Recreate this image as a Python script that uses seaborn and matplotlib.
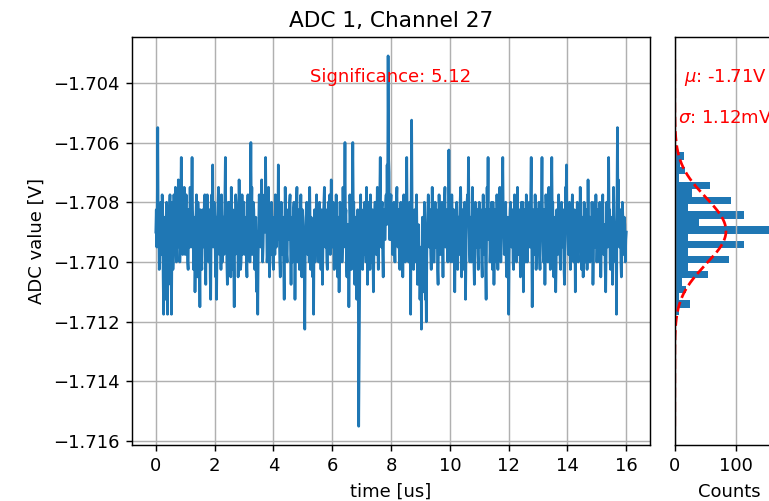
import numpy as np
import pandas as pd
import matplotlib
matplotlib.use("Agg")
import matplotlib.pyplot as plt
import seaborn as sns

# ADC samples, offset from baseline in mV (60 samples per us, one block per us)
baseline_v = -1.709
samples_per_us = 60
adc_offset_mv = [
    # 0-1 us
    0, 0.75, -0.5, 1.0, 3.5, -0.25, 0.5, -1.25, -1.0, 0.25, 1.0, -0.75, -0.25, 1.25, 0.75,
    -1.5, -2.75, 0.0, 0.5, -2.25, -1.5, 0.25, 1.0, -1.0, -2.75, 0.5, -0.5, -1.25, 0.75, 1.25,
    -1.75, 0.0, -2.75, -0.5, 1.0, -1.25, -0.75, 1.25, 0.5, -0.25, 1.5, 0.5, -1.0, 1.25, 0.25,
    -0.5, 1.75, 0.75, 0.5, -1.0, -0.5, 1.25, 2.5, 0.5, 1.0, -0.75, -0.25, 0.75, 1.5, -0.5,
    # 1-2 us
    -0.75, 0.5, 1.25, -0.25, 0.5, -1.0, -1.25, 0.75, 0.75, -0.5, 1.5, 0.25, -0.5, 1.0, 2.5,
    0.75, 0.25, -1.25, -1.0, 0.5, -2.0, -0.75, 0.5, 1.25, -0.75, -1.5, 1.0, 0.25, -1.5, -0.5,
    -2.5, 0.75, 0.0, -1.0, -1.25, 0.5, 0.75, -0.25, -0.5, 1.0, 1.25, -0.75, -1.75, 0.25, 0.25,
    1.25, 1.0, -0.5, -1.0, 0.75, 0.5, -1.5, -2.25, 0.0, 1.25, 0.5, 2.25, -0.5, -0.25, 1.0,
    # 2-3 us
    0.75, -0.25, -1.5, 0.5, -2.25, -0.5, 0.5, 1.0, 1.5, -0.25, -0.75, 0.75, 0.25, -1.25, 1.25,
    0.0, -1.0, 0.5, 0.5, -0.75, -0.25, 1.25, 2.5, 0.25, 0.75, -1.0, -1.75, 0.5, 1.0, -0.5,
    -0.5, 1.0, 0.25, -1.5, 1.5, 0.25, -1.25, 0.75, 0.5, -1.0, -2.5, 0.25, -0.75, 1.25, 1.0,
    -0.5, 0.0, 0.75, -1.5, -0.25, 1.75, 0.5, 0.5, -1.25, -1.0, 0.25, 1.25, -0.75, -0.5, 1.0,
    # 3-4 us
    1.0, -0.5, -0.75, 0.25, 0.5, -1.0, -1.5, 0.75, 1.25, -0.25, 0.25, 0.5, -1.0, 1.0, 3.0,
    0.5, 1.5, -0.75, -0.25, 1.0, 0.75, -0.5, -1.25, 0.25, 0.5, -1.5, -2.0, 0.0, -2.75, -0.75,
    0.25, 1.25, 1.0, -0.25, -0.5, 0.75, 1.75, 0.25, -1.0, -0.5, 0.5, 1.0, 1.25, 0.0, 2.5,
    0.75, 0.75, -1.0, -0.75, 0.5, 1.5, -0.25, -1.5, 0.75, 0.25, -0.75, 1.0, 0.5, -0.25, -1.0,
    # 4-5 us
    -1.25, 0.25, 0.5, -0.75, 1.25, 0.5, -0.5, 1.0, 0.75, -0.25, 2.25, 0.75, 0.0, -1.0, -1.5,
    0.5, 1.0, -0.5, -0.75, 0.25, 0.5, -1.25, -2.25, -0.5, 1.5, 0.75, 0.25, -0.75, -1.0, 0.5,
    0.75, -0.25, -0.25, 1.0, 1.25, -0.5, -1.75, 0.0, 0.5, -1.0, -0.5, 0.75, 1.0, -0.25, -2.25,
    -0.75, 0.25, 1.0, 1.5, -0.5, -1.0, 0.25, 0.75, -1.25, -0.5, 0.5, 1.25, -0.25, -1.5, 0.75,
    # 5-6 us
    0.5, -0.25, -1.0, -1.5, -3.25, -0.5, 0.25, 0.75, 1.0, -0.25, -0.75, 0.5, 0.5, -1.0, 1.5,
    0.25, -1.25, 0.5, 0.0, -0.75, -1.5, -0.25, -2.75, 0.0, 0.75, -1.0, -0.5, 0.5, 1.25, -0.5,
    0.25, 0.75, -1.0, -0.25, 1.0, 0.25, -0.25, -1.25, 0.75, 0.5, -1.75, -0.5, 0.5, 1.0, 1.5,
    -0.25, -0.5, 0.75, 0.25, -1.0, -1.25, 0.25, 1.0, -0.5, 0.5, 1.25, -0.75, 0.25, 1.75, -0.25,
    # 6-7 us
    -0.5, 0.75, 1.0, -0.25, -1.25, 0.5, 0.5, -0.75, 1.25, 0.25, -0.75, -1.5, 0.25, 0.5, -2.0,
    -0.5, 1.0, -0.25, 0.5, 0.75, -1.0, -0.5, 1.5, 0.25, -0.5, 1.0, 3.0, 0.5, 0.75, -1.0,
    -1.5, 0.25, 0.25, -0.75, -2.5, -1.0, 1.25, 0.5, -0.25, -1.25, 0.5, 1.25, 3.0, 0.75, 1.0,
    -0.5, -1.75, 0.25, 0.5, -1.0, -2.25, 0.5, 0.75, -0.75, -6.5, -4.0, -1.0, 0.5, 1.25, -0.25,
    # 7-8 us
    0.75, -0.5, -1.25, 0.25, 0.25, -0.75, 1.0, 0.5, -0.5, -1.0, 1.5, 0.25, -1.75, -0.5, 0.5,
    1.0, -0.25, -1.25, 1.25, 0.5, -1.0, 0.0, 0.75, -0.5, -2.0, -0.75, 0.25, 1.0, 1.0, -0.25,
    -0.75, 0.5, 1.5, -0.5, -1.25, 0.25, 0.5, 1.25, 2.5, 0.0, -0.5, 0.75, 1.0, -0.75, -1.5,
    0.5, 0.75, -0.25, -0.25, 1.0, 1.25, 0.25, 2.25, 0.75, 5.9, 2.5, 2.0, -0.25, -0.25, 1.0,
    # 8-9 us
    1.25, -0.25, 0.5, -0.75, -0.75, 0.5, 1.0, -0.5, -1.0, 0.25, 0.25, 1.0, 1.5, -0.25, -0.5,
    0.75, 0.75, -1.0, -1.25, 0.25, 1.0, -0.5, 0.0, 0.75, -1.5, -0.25, 1.25, 0.5, 0.5, -1.0,
    -0.75, 0.25, 2.5, 0.5, 0.25, -0.75, -1.0, 0.5, 1.0, -0.25, -2.75, 1.0, 3.75, 0.75, 0.5,
    -0.5, -1.25, 0.25, 0.75, -1.0, -0.5, 0.5, 1.25, -0.25, -1.75, -0.75, 0.25, -1.25, -1.0, -2.25,
    # 9-10 us
    -1.5, -0.5, -3.25, -1.0, 0.5, -0.25, -0.75, -2.0, 1.0, -0.5, -2.25, -1.25, -3.0, -0.75, 0.25,
    0.75, 1.25, -0.25, -0.5, 0.5, 0.75, -0.75, -1.25, 0.25, 1.5, 0.5, 0.0, -1.0, -1.0, 0.25,
    1.0, -0.5, -0.25, 0.75, 0.5, -1.25, -1.75, 0.0, 1.25, 0.5, 0.25, -0.75, -0.75, 0.5, 1.0,
    -0.25, -1.5, 0.25, 0.5, 1.0, 1.5, -0.5, -0.5, 0.25, 0.75, -0.75, -1.0, 0.5, 2.75, 0.75,
    # 10-11 us
    0.5, -0.5, -1.0, 0.25, 1.25, 0.5, -0.5, -1.0, 0.75, 0.25, -2.0, -0.5, 0.25, 0.75, 1.0,
    -0.25, -1.25, 0.5, 0.5, -0.75, -0.25, 1.0, 1.5, 0.25, -1.5, -0.5, 0.75, 0.5, -0.75, -1.25,
    1.0, 0.25, -2.25, -0.75, 0.25, 1.0, 1.25, 0.5, 2.5, 0.75, -0.5, -1.0, 0.5, 0.25, -1.0,
    -0.25, 1.5, 0.5, 0.0, -1.0, -1.75, -0.5, 1.0, 0.75, -0.5, 0.25, 0.75, -0.75, -1.25, 0.5,
    # 11-12 us
    1.0, -0.5, -0.25, 0.75, 0.5, -1.0, -1.5, 0.25, 1.25, -0.25, -0.75, 0.5, 0.75, -1.25, -2.25,
    0.0, 1.5, 0.5, 2.5, -0.25, 0.25, 0.75, -1.0, -0.5, 0.5, 1.0, -0.5, -1.25, 1.0, 0.25,
    -1.75, -0.5, 0.75, 0.5, -0.25, -1.0, 1.25, 0.25, -1.25, 0.75, 0.5, -0.5, 1.5, 0.25, -1.0,
    -0.25, 0.25, 1.0, 2.5, 0.5, 0.75, -0.75, -0.5, 0.25, 1.0, -1.0, -1.5, 0.25, 0.5, -0.5,
    # 12-13 us
    -2.75, -0.75, 0.25, 0.75, 1.0, -0.25, -0.5, 0.5, 0.75, -1.0, -1.25, 0.25, 1.25, 0.5, 0.0,
    -0.75, -1.0, 0.25, 1.5, -0.5, -0.75, 0.75, 0.5, -0.25, -1.5, 0.5, 1.0, -0.75, 0.25, 1.0,
    -2.0, -0.5, 0.75, 0.25, -0.25, -1.0, 1.25, 0.5, -1.0, -0.25, 0.5, 0.75, 1.0, -0.5, -0.5,
    1.25, 2.5, 0.0, -2.5, -0.75, 0.75, 0.5, -0.75, -0.25, 1.25, 0.25, -1.25, -0.5, 0.5, 0.75,
    # 13-14 us
    -0.5, 0.25, 1.0, -0.75, -1.25, 0.5, 0.5, 1.0, 2.5, 0.25, -0.25, -1.0, 0.75, 0.5, -1.75,
    -0.25, 1.25, 0.75, 0.0, -0.5, -1.0, 0.25, 1.5, -0.25, -0.5, -1.25, 0.25, 1.0, 2.5, 0.5,
    1.0, -0.5, -1.5, -0.75, 0.5, 0.25, -2.0, -1.0, 0.75, 0.5, -0.75, -0.25, 1.25, 0.25, 0.25,
    -1.0, -1.25, 0.5, 1.0, -0.5, -0.25, 0.75, 0.5, -1.25, -1.75, -0.5, 1.5, 0.75, 2.25, 0.25,
    # 14-15 us
    0.5, -0.25, -0.75, 0.5, 1.0, -0.5, -1.25, 0.25, 0.25, 0.75, 1.25, -0.25, -0.5, -1.0, 0.75,
    0.5, -2.0, -0.5, 0.5, 0.25, 1.0, -0.75, -1.0, 0.5, 0.25, -0.25, 1.5, 0.75, -0.75, -1.25,
    0.0, 0.5, -1.5, -0.5, 1.0, 0.25, -0.25, -1.0, 0.75, 0.5, -1.25, -0.25, 1.75, 0.25, 0.5,
    -0.75, -1.0, 0.5, 0.25, -0.5, 1.0, 0.25, -1.75, -0.75, 0.5, 1.0, -0.5, -0.25, 1.25, 0.5,
    # 15-16 us
    -1.0, -0.25, 0.75, 0.25, -0.25, -1.0, 1.0, 0.5, -1.5, -0.5, 0.5, 0.75, 1.25, -0.25, -0.75,
    0.25, 0.25, -1.25, -2.0, -0.5, 1.0, 0.25, -0.5, 0.75, 2.5, 0.5, 0.75, -1.0, -1.25, 0.25,
    0.5, -0.5, -1.75, -0.25, 1.5, 0.5, 0.0, -0.75, -1.0, 0.25, -2.75, 1.0, 3.5, 0.75, 1.75,
    -0.25, -0.5, 0.5, 0.75, -1.0, -1.5, -0.25, 1.0, 0.5, -0.25, -0.75, 0.5, 0.25, -1.0, -0.25,
    0.0,
]

# histogram of the channel (50 bins, lowest voltage first)
hist_range_v = (-1.7155, -1.7031)
hist_counts = [
    1, 0, 0, 0, 0, 0, 0, 0, 0, 0,
    1, 0, 2, 1, 2, 7, 25, 7, 19, 12,
    54, 21, 89, 21, 114, 21, 170, 39, 114, 21,
    93, 29, 57, 7, 17, 8, 15, 3, 2, 0,
    2, 1, 0, 0, 0, 0, 0, 0, 0, 1,
]

# gaussian fit result
fit_mu_v = -1.70896
fit_sigma_v = 0.00112
fit_peak_counts = 84
significance = 5.12

adc = baseline_v + np.array(adc_offset_mv) / 1000
time_us = np.arange(len(adc)) / samples_per_us

dpi = 130
fig = plt.figure(figsize=(769 / dpi, 501 / dpi), dpi=dpi)
ax = fig.add_axes([0.1720, 0.1122, 0.6730, 0.8132])
ax_hist = fig.add_axes([0.8774, 0.1122, 0.1417, 0.8132], sharey=ax)

# time trace
sns.lineplot(x=time_us, y=adc, ax=ax, color="C0", linewidth=1.5)
ax.set_title("ADC 1, Channel 27")
ax.set_xlabel("time [us]")
ax.set_ylabel("ADC value [V]")
ax.set_xticks(range(0, 17, 2))
ax.grid(True)
ax.text(0.5, 0.89, f"Significance: {significance:.2f}", color="red",
        ha="center", transform=ax.transAxes)

# histogram + fit
n_bins = len(hist_counts)
bin_width = (hist_range_v[1] - hist_range_v[0]) / n_bins
hist_df = pd.DataFrame({
    "adc": hist_range_v[0] + bin_width * (np.arange(n_bins) + 0.5),
    "counts": hist_counts,
})
sns.histplot(data=hist_df, y="adc", weights="counts", bins=n_bins,
             binrange=hist_range_v, ax=ax_hist, color="C0", alpha=1, linewidth=0)

v = np.linspace(hist_range_v[0], hist_range_v[1], 300)
ax_hist.plot(fit_peak_counts * np.exp(-0.5 * ((v - fit_mu_v) / fit_sigma_v) ** 2), v, "r--")

ax_hist.set_xlabel("Counts")
ax_hist.set_ylabel("")
ax_hist.tick_params(axis="y", left=False, labelleft=False)
ax_hist.grid(True, axis="x")
ax_hist.text(0.465, 0.89, r"$\mu$: -1.71V", color="red", ha="center", transform=ax_hist.transAxes)
ax_hist.text(0.465, 0.79, r"$\sigma$: 1.12mV", color="red", ha="center", transform=ax_hist.transAxes)

fig.savefig("out.png", dpi=dpi)
